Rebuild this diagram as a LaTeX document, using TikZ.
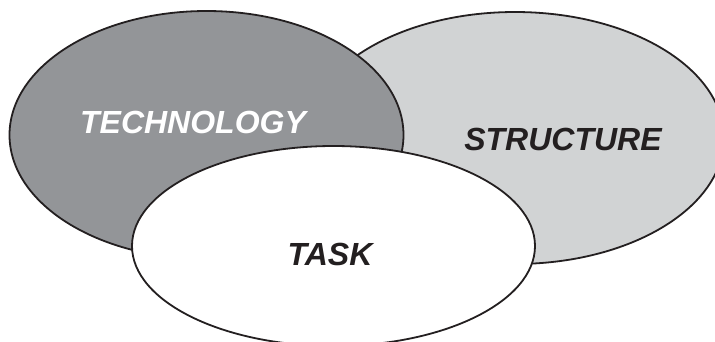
\documentclass[tikz,border=0pt]{standalone}
\usepackage{fontspec}
\setmainfont{Liberation Sans}
\usetikzlibrary{shapes.geometric}
\definecolor{techgray}{RGB}{147,149,152}
\definecolor{structgray}{RGB}{209,211,212}
\definecolor{inkline}{RGB}{35,31,32}
\begin{document}
\begin{tikzpicture}[x=1pt,y=-1pt,
  blob/.style={ellipse, draw=inkline, line width=1.8pt, inner sep=0pt},
  lbl/.style={font=\fontsize{32}{34}\selectfont\bfseries\itshape, anchor=base, inner sep=0pt}]
\useasboundingbox (0,0) rectangle (715,341);
\clip (0,0) rectangle (715,341);
\fill[white] (0,0) rectangle (715,341);
\node[blob, fill=structgray, minimum width=418pt, minimum height=252pt] (structure) at (515,138) {};
\node[blob, fill=techgray, minimum width=394pt, minimum height=248pt] (technology) at (206.5,135) {};
\node[blob, fill=white, minimum width=403pt, minimum height=200pt] (task) at (333.5,246) {};
\node[lbl, text=white] (tlabel) at (193,133) {TECHNOLOGY};
\node[lbl, text=inkline] (slabel) at (563,150) {STRUCTURE};
\node[lbl, text=inkline] (klabel) at (330,265) {TASK};
\end{tikzpicture}
\end{document}
